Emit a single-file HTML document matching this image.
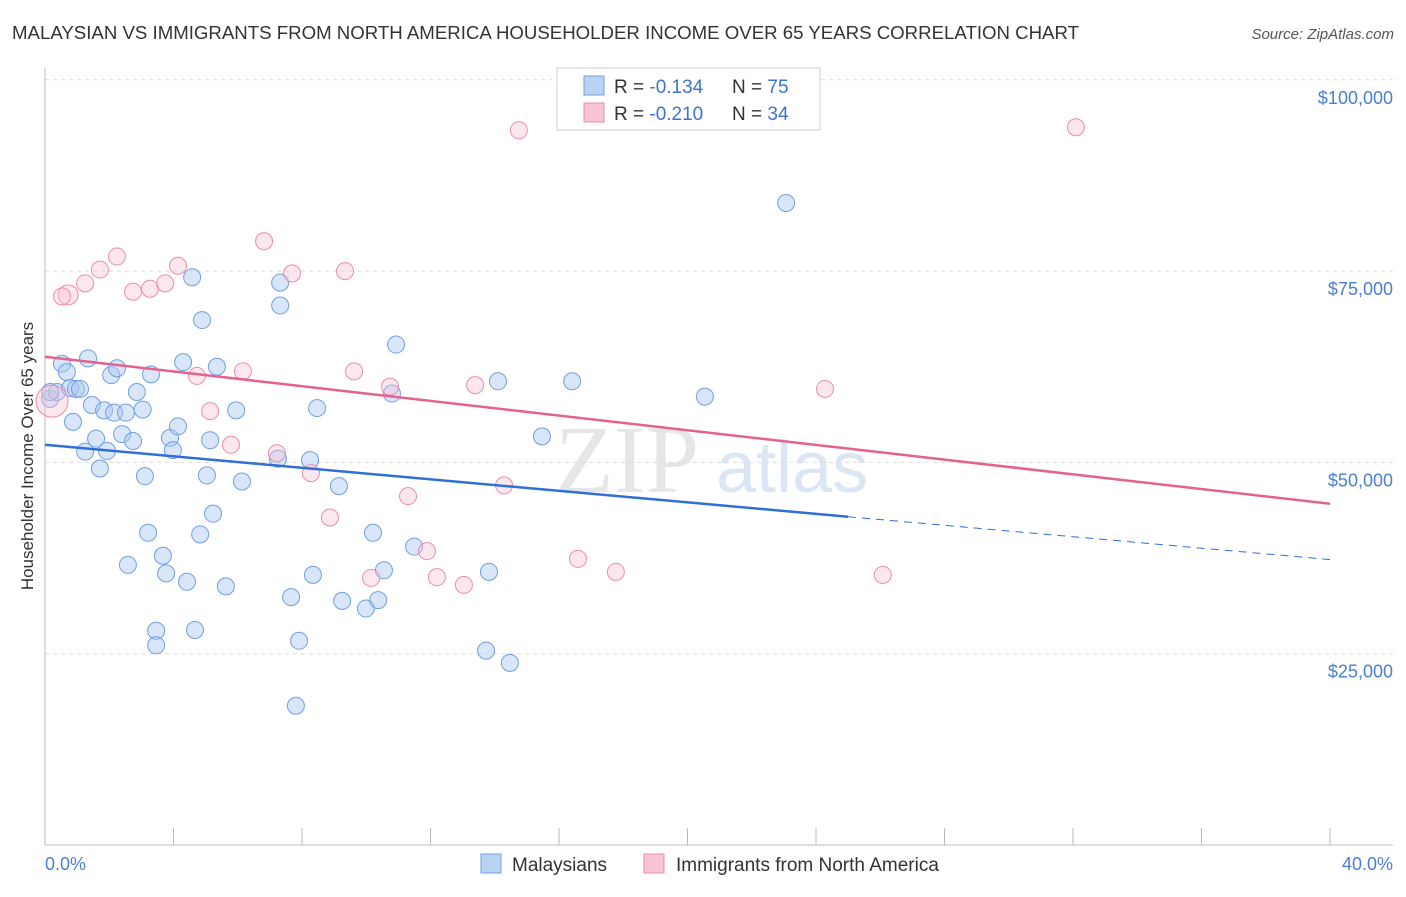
<!DOCTYPE html>
<html><head><meta charset="utf-8"><style>
body{margin:0;background:#fff;font-family:"Liberation Sans",sans-serif}
</style></head><body>
<svg id="c" width="1406" height="892" xmlns="http://www.w3.org/2000/svg" font-family="Liberation Sans, sans-serif">
<text x="12" y="39" font-size="18" fill="#333" textLength="1067" lengthAdjust="spacingAndGlyphs">MALAYSIAN VS IMMIGRANTS FROM NORTH AMERICA HOUSEHOLDER INCOME OVER 65 YEARS CORRELATION CHART</text>
<text x="1394" y="39" font-size="15" fill="#555" text-anchor="end" font-style="italic">Source: ZipAtlas.com</text>
<text x="555" y="492" font-size="96" fill="#e6e6e6" font-family="Liberation Serif, serif">ZIP</text>
<text x="716" y="492" font-size="72" fill="#dbe6f5">atlas</text>
<g id="grid"></g>
<line x1="45" y1="68" x2="45" y2="845" stroke="#bbb"/>
<line x1="45" y1="845" x2="1393" y2="845" stroke="#bbb"/>
<g id="xt"></g>
<text transform="translate(33,456) rotate(-90)" font-size="17" fill="#333" text-anchor="middle">Householder Income Over 65 years</text>
<text x="45" y="870" font-size="18" fill="#4a7fd4">0.0%</text>
<text x="1393" y="870" font-size="18" fill="#4a7fd4" text-anchor="end">40.0%</text>
<g id="pts"></g>
<g id="trend"></g>
<g>
<rect x="557" y="68" width="263" height="62" fill="#fff" stroke="#ccc"/>
<rect x="584" y="76" width="20" height="19" fill="#b9d3f5" stroke="#6f9fe0"/>
<rect x="584" y="103" width="20" height="19" fill="#f9c5d4" stroke="#ec8cab"/>
<text x="614" y="93" font-size="19" fill="#333">R = <tspan fill="#3d73d0">-0.134</tspan></text>
<text x="732" y="93" font-size="19" fill="#333">N = <tspan fill="#3d73d0">75</tspan></text>
<text x="614" y="120" font-size="19" fill="#333">R = <tspan fill="#3d73d0">-0.210</tspan></text>
<text x="732" y="120" font-size="19" fill="#333">N = <tspan fill="#3d73d0">34</tspan></text>
</g>
<g>
<rect x="481" y="854" width="20" height="19" fill="#b9d3f5" stroke="#6f9fe0"/>
<text x="512" y="871" font-size="19" fill="#333">Malaysians</text>
<rect x="644" y="854" width="20" height="19" fill="#f9c5d4" stroke="#ec8cab"/>
<text x="676" y="871" font-size="19" fill="#333">Immigrants from North America</text>
</g>
</svg>
<script>
const yTicks=[25000,50000,75000,100000];
const yTickLabels=["$25,000","$50,000","$75,000","$100,000"];
const xTicks=[0,4,8,12,16,20,24,28,32,36,40];
const blueX=[0.16,0.37,0.53,0.68,0.78,0.87,0.96,1.09,1.25,1.34,1.46,1.59,1.71,1.84,1.93,2.06,2.15,2.24,2.40,2.52,2.58,2.74,2.86,3.11,3.04,3.21,3.30,3.46,3.46,3.67,3.77,3.89,3.98,4.14,4.30,4.42,4.58,4.67,4.83,4.89,5.04,5.14,5.23,5.35,5.63,5.95,6.13,7.25,7.32,7.32,7.66,7.81,7.91,8.25,8.34,8.47,9.15,9.25,9.99,10.21,10.37,10.55,10.80,10.93,11.49,13.73,13.82,14.10,14.47,15.47,16.41,20.54,23.07,0.16];
const blueY=[58300,59200,62900,61800,59700,55300,59600,59600,51400,63600,57500,53100,49200,56800,51500,61400,56500,62300,53700,56500,36600,52800,59200,48200,56900,40800,61500,28000,26100,37800,35500,53200,51600,54700,63100,34400,74200,28100,40600,68600,48300,52900,43300,62500,33800,56800,47500,50500,73500,70500,32400,18200,26700,50300,35300,57100,46900,31900,30900,40800,32000,35900,59000,65400,39000,25400,35700,60600,23800,53400,60600,58600,83900,59200];
const pinkX=[0.22,0.72,1.25,1.71,2.24,2.74,3.27,3.74,4.14,4.73,5.14,5.79,6.16,6.82,7.22,7.69,8.28,8.87,9.34,9.62,10.15,10.74,11.30,11.89,12.20,13.04,13.39,14.29,14.75,16.59,17.77,24.28,26.08,32.09,0.53];
const pinkY=[58000,71900,73400,75200,76900,72300,72700,73400,75700,61300,56700,52300,61900,78900,51200,74700,48600,42800,75000,61900,34900,59900,45600,38400,35000,34000,60100,47000,93400,37400,35700,59600,35300,93800,71700];
const blueTrend=[[0,52300],[25,42900]];
const blueDash=[[25,42900],[40,37300]];
const pinkTrend=[[0,63800],[40,44600]];
const X=v=>45+v/40*1285, Y=v=>845-v/25000*191.3;
const NS="http://www.w3.org/2000/svg";
function mk(t,a,p){const e=document.createElementNS(NS,t);for(const k in a)e.setAttribute(k,a[k]);document.getElementById(p).appendChild(e);return e;}
yTicks.forEach((v,i)=>{
 const l=mk('line',{x1:45,x2:1393,y1:Y(v),y2:Y(v),stroke:'#ddd','stroke-dasharray':'4,4'},'grid');
 
 
 const t=mk('text',{x:1393,y:Y(v)+24,'font-size':18,fill:'#4a7fd4','text-anchor':'end'},'grid');
 t.textContent=yTickLabels[i];
 
 
});
xTicks.forEach(v=>{
 const l=mk('line',{x1:X(v),x2:X(v),y1:828,y2:845,stroke:'#bbb'},'xt');
 
 
});
blueX.forEach((x,i)=>{
 const c=mk('circle',{cx:X(x),cy:Y(blueY[i]),r:8.5,fill:'rgba(170,200,242,0.45)',stroke:'#6f9fe0','stroke-width':1},'pts');
 
 
});
pinkX.forEach((x,i)=>{
 const c=mk('circle',{cx:X(x),cy:Y(pinkY[i]),r:i==0?16:(i==1?10:8.5),fill:'rgba(248,195,212,0.4)',stroke:'#ec8cab','stroke-width':1},'pts');
 
 
});
function tl(d,col,dash,name){
 const l=mk('line',{x1:X(d[0][0]),y1:Y(d[0][1]),x2:X(d[1][0]),y2:Y(d[1][1]),stroke:col,'stroke-width':dash?1:2.5},'trend');
 if(dash)l.setAttribute('stroke-dasharray','8,6');
 
 
}
tl(blueTrend,'#2f6fd6',false,'malaysian-trendline');
tl(blueDash,'#2f6fd6',true,'malaysian-trendline-extension');
tl(pinkTrend,'#e4628e',false,'immigrant-trendline');
</script>
</body></html>
